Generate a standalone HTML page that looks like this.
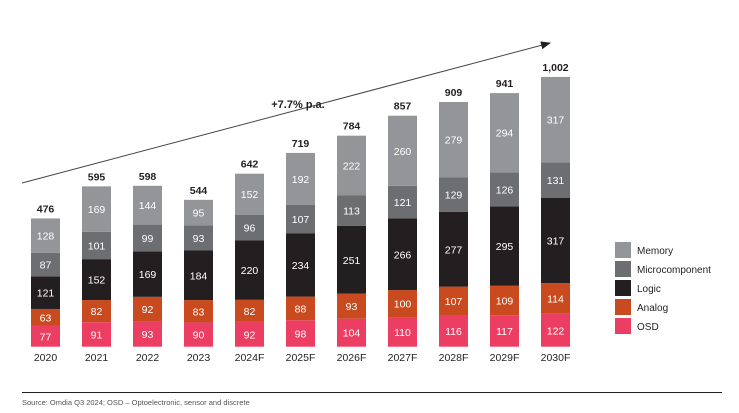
<!DOCTYPE html>
<html><head><meta charset="utf-8"><style>
body{margin:0;background:#fff;font-family:"Liberation Sans",Arial,sans-serif}
svg{display:block}
</style></head><body>
<svg id="chart" width="739" height="413" viewBox="0 0 739 413" xmlns="http://www.w3.org/2000/svg">
<defs><marker id="ah" markerWidth="10" markerHeight="8" refX="9" refY="4" orient="auto"><path d="M0,0 L10,4 L0,8 Z" fill="#231f20"/></marker></defs>
<line x1="22" y1="183" x2="550" y2="43" stroke="#444" stroke-width="1" marker-end="url(#ah)"/>
<text x="298" y="108" text-anchor="middle" font-size="11" font-weight="bold" fill="#231f20">+7.7% p.a.</text>
<g id="bars"></g>
<g id="legend"></g>
<line x1="22" y1="392.5" x2="722" y2="392.5" stroke="#231f20" stroke-width="1"/>
<text x="22" y="405" font-size="7.5" fill="#555">Source: Omdia Q3 2024; OSD – Optoelectronic, sensor and discrete</text>
</svg>
<script>
const categories=["2020","2021","2022","2023","2024F","2025F","2026F","2027F","2028F","2029F","2030F"];
const osd=[77,91,93,90,92,98,104,110,116,117,122];
const analog=[63,82,92,83,82,88,93,100,107,109,114];
const logic=[121,152,169,184,220,234,251,266,277,295,317];
const micro=[87,101,99,93,96,107,113,121,129,126,131];
const memory=[128,169,144,95,152,192,222,260,279,294,317];
const totals=["476","595","598","544","642","719","784","857","909","941","1,002"];
const seriesNames=["OSD","Analog","Logic","Microcomponent","Memory"];
const seriesData=[osd,analog,logic,micro,memory];
const colors=["#ec3e63","#c94a1e","#231f20","#6d6e71","#939598"];
const NS="http://www.w3.org/2000/svg";
const base=346.7, k=0.2695, x0=31, step=51, bw=29;
const y=v=>base-v*k;
const xc=i=>x0+i*step;
function mk(tag,attrs){const e=document.createElementNS(NS,tag);for(const a in attrs)e.setAttribute(a,attrs[a]);return e;}
const g=document.getElementById('bars');
categories.forEach((c,i)=>{
  let cum=0;
  seriesData.forEach((s,j)=>{
    const v=s[i];
    const r=mk('rect',{x:xc(i),y:y(cum+v),width:bw,height:v*k,fill:colors[j]});
    
    
    g.appendChild(r);
    const t=mk('text',{x:xc(i)+bw/2,y:y(cum+v/2)+4,'text-anchor':'middle','font-size':'10.5',fill:'#fff'});
    t.textContent=v;
    
    
    g.appendChild(t);
    cum+=v;
  });
  const tt=mk('text',{x:xc(i)+bw/2,y:y(cum)-6,'text-anchor':'middle','font-size':'10.5','font-weight':'bold',fill:'#231f20'});
  tt.textContent=totals[i];
  
  
  g.appendChild(tt);
  const xl=mk('text',{x:xc(i)+bw/2,y:361,'text-anchor':'middle','font-size':'10.5',fill:'#231f20'});
  xl.textContent=c;
  
  
  g.appendChild(xl);
});
const lg=document.getElementById('legend');
const legOrder=[4,3,2,1,0];
legOrder.forEach((j,n)=>{
  const yy=242+n*19;
  const r=mk('rect',{x:615,y:yy,width:16,height:16,fill:colors[j]});
  
  
  lg.appendChild(r);
  const t=mk('text',{x:637,y:yy+12,'font-size':'10',fill:'#231f20'});
  t.textContent=seriesNames[j];
  
  
  lg.appendChild(t);
});
</script>
</body></html>
